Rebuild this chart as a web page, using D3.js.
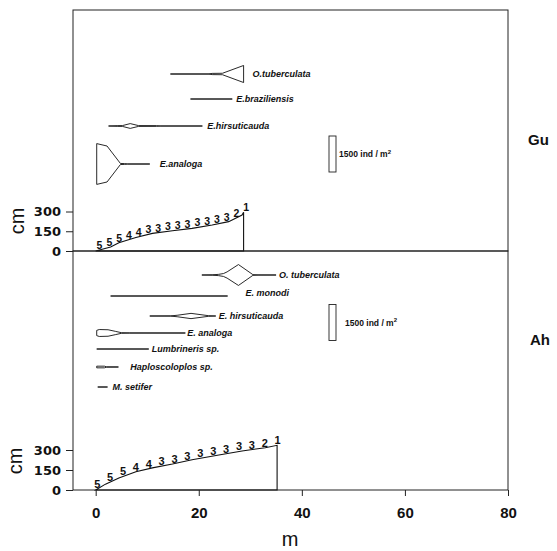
<!DOCTYPE html>
<html>
<head>
<meta charset="utf-8">
<title>Kite diagrams Gu / Ah</title>
<script src="https://cdn.jsdelivr.net/npm/d3@7"></script>
<style>
  body { margin: 0; background: #fff; }
  svg text { font-family: "Liberation Sans", Arial, sans-serif; fill: #111; }
  .frame { fill: none; stroke: #222; stroke-width: 1; }
  .yax text { font-family: "DejaVu Sans", sans-serif; font-size: 13px; font-weight: bold; }
  .xax text { font-size: 15px; font-weight: bold; }
  .tick line { stroke: #222; }
  .profile { fill: none; stroke: #111; stroke-width: 1.1; }
  .cls { font-weight: bold; text-anchor: middle; }
  .kite { fill: #fff; stroke: #111; stroke-width: 0.9; }
  .sp { font-size: 9px; font-style: italic; font-weight: bold; }
  .bar { fill: #fff; stroke: #222; stroke-width: 0.9; }
  .bartxt { font-size: 8.5px; font-weight: bold; }
  .site { font-size: 15px; font-weight: bold; }
  .title { font-size: 20px; }
</style>
</head>
<body>
<svg id="chart" width="557" height="551"></svg>
<script>
"use strict"
// beach profiles: distance (m) and height (cm)
var guDist   = [0, 2.9, 4.5, 7.8, 11, 14.9, 18.7, 22.6, 25.8, 28.4, 28.7];
var guHeight = [0, 30, 62, 103, 134, 154, 172, 197, 223, 273, 295];
var guClass  = ["5","5","5","4","4","3","3","3","3","3","3","3","3","3","2","1"];

var ahDist   = [0, 1.9, 4.5, 7.8, 11, 14.9, 18.7, 23.9, 28.4, 32.9, 35.2];
var ahHeight = [0, 44, 90, 137, 166, 195, 227, 263, 293, 317, 335];
var ahClass  = ["5","5","5","4","4","3","3","3","3","3","3","3","3","2","1"];

// kites: [distance m, density ind/m2]
var guSpecies = ["O.tuberculata", "E.braziliensis", "E.hirsuticauda", "E.analoga"];
var guKites = [
  [[14.5,0],[21.8,0],[22.6,50],[24.6,60],[28.7,710]],
  [[18.4,0],[26.5,0]],
  [[2.5,0],[4.3,30],[5.2,35],[6.7,200],[8.3,35],[11.8,30],[12.5,0],[20.7,0]],
  [[0.2,1700],[2.2,1500],[4.8,45],[5.6,35],[6.2,0],[10.5,0]]
];

var ahSpecies = ["O. tuberculata", "E. monodi", "E. hirsuticauda", "E. analoga",
                 "Lumbrineris sp.", "Haploscoloplos sp.", "M. setifer"];
var ahKites = [
  [[20.6,0],[22.6,20],[23.8,50],[24.8,120],[25.5,260],[27.7,870],[30.5,30],[31.5,8],[35,0]],
  [[2.9,0],[25.6,0]],
  [[10.5,0],[14.5,10],[15.8,60],[18.5,220],[21.9,25],[23.3,0]],
  [[0.2,220],[0.7,290],[2.4,270],[3.8,140],[5,25],[6.5,10],[17.4,0]],
  [[0.2,0],[10.3,0]],
  [[0.2,70],[1.7,70],[2.1,15],[4.4,10]],
  [[0.4,0],[2.3,0]]
];

var scaleValue = 1500;
var xTicks = [0, 20, 40, 60, 80];
var yTicks = [0, 150, 300];

// layout
var svg = d3.select('#chart');
var left = 73, right = 508;
var x = d3.scaleLinear().domain([-4.4, 80]).range([left, right]);
var dens = d3.scaleLinear().domain([0, scaleValue]).range([0, 36]);

var panels = [
  { site: 'Gu', top: 10, base: 251, y300: 211.5, dist: guDist, h: guHeight, cls: guClass,
    clsFrom: 0.75, clsTo: 29.2, clsSize: 10.5, species: guSpecies, kites: guKites,
    rows: [74, 99, 126, 164], gaps: [9, 4, 5, 10], dy: [0, 0, 0, 0],
    barY: 154, barTx: 339, siteX: 528, siteY: 145, cmY: 221, cmX: 23.5 },
  { site: 'Ah', top: 251, base: 490, y300: 450, dist: ahDist, h: ahHeight, cls: ahClass,
    clsFrom: 0.3, clsTo: 35.3, clsSize: 11, species: ahSpecies, kites: ahKites,
    rows: [275, 296, 316, 333, 349, 367, 387], gaps: [3, 18, 3, 2, 3, 12, 5], dy: [0, -3, 0, 0, 0, 0, 0],
    barY: 322.5, barTx: 345, siteX: 530, siteY: 345, cmY: 461, cmX: 22 }
];

panels.forEach(function(p) {
  var y = d3.scaleLinear().domain([0, 300]).range([p.base, p.y300]);
  var g = svg.append('g');

  g.append('rect').attr('class', 'frame')
    .attr('x', left).attr('y', p.top)
    .attr('width', right - left).attr('height', p.base - p.top);

  var ax = g.append('g').attr('class', 'yax')
    .attr('transform', 'translate(' + left + ',0)')
    .call(d3.axisLeft(y).tickValues(yTicks).tickSize(7).tickPadding(5));
  ax.select('.domain').remove();

  g.append('text').attr('class', 'title')
    .attr('transform', 'translate(' + p.cmX + ',' + p.cmY + ') rotate(-90)')
    .attr('text-anchor', 'middle').text('cm');

  // profile
  var prof = p.dist.map(function(d, i) { return [d, p.h[i]]; });
  g.append('path').attr('class', 'profile')
    .attr('d', d3.area().x(function(d) { return x(d[0]); })
      .y0(y(0)).y1(function(d) { return y(d[1]); })(prof));

  var hAt = d3.scaleLinear().domain(p.dist).range(p.h).clamp(true);
  var pos = d3.scaleLinear().domain([0, p.cls.length - 1]).range([p.clsFrom, p.clsTo]);
  g.selectAll('.cls').data(p.cls).enter().append('text')
    .attr('class', 'cls').style('font-size', p.clsSize + 'px')
    .attr('x', function(d, i) { return x(pos(i)); })
    .attr('y', function(d, i) { return y(hAt(pos(i))) - 1; })
    .text(function(d) { return d; });

  // kites
  p.kites.forEach(function(k, i) {
    var row = p.rows[i];
    g.append('path').attr('class', 'kite')
      .attr('d', d3.area().x(function(d) { return x(d[0]); })
        .y0(function(d) { return row - dens(d[1]) / 2; })
        .y1(function(d) { return row + dens(d[1]) / 2; })(k));
    g.append('text').attr('class', 'sp')
      .attr('x', x(k[k.length - 1][0]) + p.gaps[i])
      .attr('y', row + 3 + p.dy[i])
      .text(p.species[i]);
  });

  // density scale bar
  g.append('rect').attr('class', 'bar')
    .attr('x', 329).attr('width', 7)
    .attr('y', p.barY - dens(scaleValue) / 2).attr('height', dens(scaleValue));
  var t = g.append('text').attr('class', 'bartxt')
    .attr('x', p.barTx).attr('y', p.barY + 3)
    .text(scaleValue + ' ind / m');
  t.append('tspan').attr('dy', -3.5).style('font-size', '6px').text('2');

  g.append('text').attr('class', 'site')
    .attr('x', p.siteX).attr('y', p.siteY).text(p.site);

  if (p.site === 'Ah') {
    var xa = g.append('g').attr('class', 'xax')
      .attr('transform', 'translate(0,' + p.base + ')')
      .call(d3.axisBottom(x).tickValues(xTicks).tickSize(6).tickPadding(11));
    xa.select('.domain').remove();
    g.append('text').attr('class', 'title')
      .attr('x', 290).attr('y', 546).attr('text-anchor', 'middle').text('m');
  }
});
</script>
</body>
</html>
